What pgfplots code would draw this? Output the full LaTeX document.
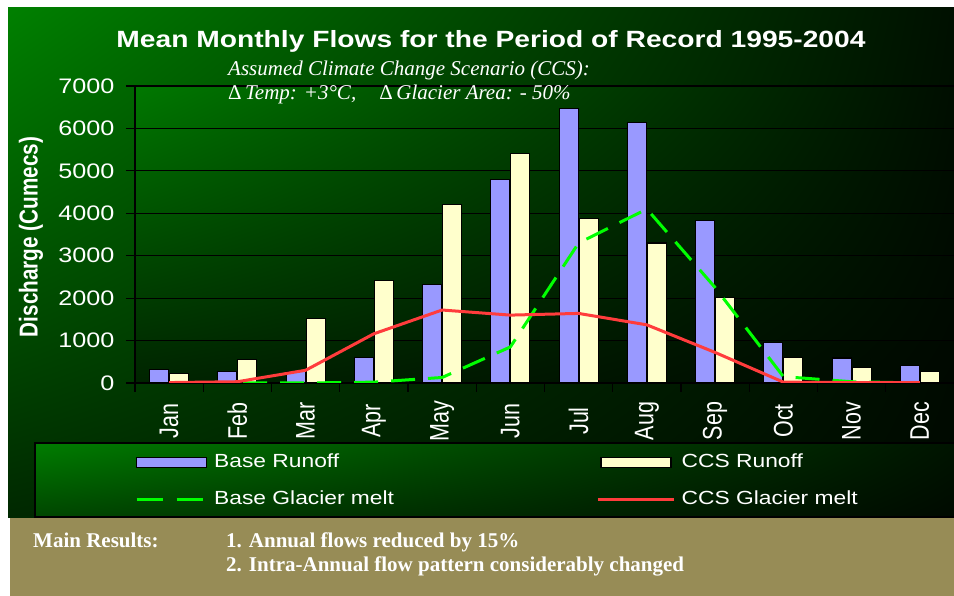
\documentclass[border=0pt]{standalone}
\usepackage{pgfplots}
\pgfplotsset{compat=1.18}
\usetikzlibrary{shadings}
\usepackage{fontspec}
\setmainfont{Liberation Sans}
\newfontfamily\sw[FakeStretch=1.2]{Liberation Sans}
\newfontfamily\tw{Liberation Serif}
\newcommand\vs[1]{\scalebox{1}[1.25]{#1}}
\definecolor{baseblue}{RGB}{153,153,255}
\definecolor{ccsyellow}{RGB}{255,255,204}
\definecolor{meltgreen}{RGB}{0,255,0}
\definecolor{ccsred}{RGB}{255,60,60}
\definecolor{tanc}{RGB}{151,140,86}
\definecolor{pUL}{RGB}{0,128,0}
\definecolor{pUR}{RGB}{0,16,0}
\definecolor{pLL}{RGB}{0,40,0}
\definecolor{pLR}{RGB}{0,8,0}
\definecolor{aUL}{RGB}{0,120,0}
\definecolor{aUR}{RGB}{0,14,0}
\definecolor{aLL}{RGB}{0,36,0}
\definecolor{aLR}{RGB}{0,8,0}
\definecolor{lUL}{RGB}{0,125,0}
\definecolor{lUR}{RGB}{0,20,0}
\definecolor{lLL}{RGB}{0,70,0}
\definecolor{lLR}{RGB}{0,10,0}
\begin{document}
\begin{tikzpicture}
\useasboundingbox (0pt,0pt) rectangle (954pt,596pt);
\fill[white] (0pt,0pt) rectangle (954pt,596pt);
\shade[upper left=pUL, upper right=pUR, lower left=pLL, lower right=pLR] (8pt,78pt) rectangle (954pt,588pt);
\shade[upper left=aUL, upper right=aUR, lower left=aLL, lower right=aLR] (135pt,213pt) rectangle (954pt,510pt);
\shade[upper left=lUL, upper right=lUR, lower left=lLL, lower right=lLR] (35pt,79pt) rectangle (954pt,153pt);
\draw[black, line width=1.5pt] (35pt,79pt) rectangle (956pt,153pt);
\fill[tanc] (10pt,0pt) rectangle (954pt,78pt);
\begin{axis}[
  at={(135pt,213pt)}, anchor=south west,
  scale only axis, width=819pt, height=297pt,
  xmin=-0.5, xmax=11.5, ymin=0, ymax=7000,
  axis lines=left, axis line style={-, black, line width=1.3pt},
  xtick={-0.5,0.5,...,10.5},
  xticklabels={\vs{Jan},\vs{Feb},\vs{Mar},\vs{Apr},\vs{May},\vs{Jun},\vs{Jul},\vs{Aug},\vs{Sep},\vs{Oct},\vs{Nov},\vs{Dec}},
  xticklabel style={xshift=34.1pt, yshift=-29pt, rotate=90, anchor=center, font=\fontsize{21.5}{25}\selectfont, text=white},
  ytick={0,1000,...,7000},
  yticklabel style={font=\sw\fontsize{21}{25}\selectfont, text=white, anchor=east, xshift=-8pt},
  /pgf/number format/assume math mode=true, /pgf/number format/1000 sep={},
  scaled y ticks=false,
  ymajorgrids, grid style={black, line width=1.2pt},
  tick align=outside, major tick length=9pt,
  tick style={black, line width=1.2pt},
  ylabel={\vs{\bfseries Discharge (Cumecs)}},
  ylabel style={at={(axis description cs:-0.127,0.4916)}, anchor=center, text=white, font=\fontsize{20.7}{24}\selectfont},
  legend columns=2,
  legend cell align=left,
  legend style={at={(-0.0037,-0.229)}, anchor=north west, draw=none, fill=none, text=white,
    font=\sw\fontsize{19}{22}\selectfont, column sep=6pt, row sep=18pt,
    nodes={inner sep=0pt, text height=14pt, text depth=5pt}},
]
\addplot[ybar, bar width=19pt, bar shift=-10pt, fill=baseblue, draw=black, line width=1.1pt,
  legend image code/.code={\draw[fill=baseblue,draw=black,line width=1.2pt] (0pt,-5pt) rectangle (70pt,5pt);}]
  coordinates {(0,310) (1,270) (2,280) (3,600) (4,2330) (5,4800) (6,6480) (7,6140) (8,3840) (9,950) (10,590) (11,410)};
\addlegendentry{\makebox[376pt][l]{Base Runoff}}
\addplot[ybar, bar width=19pt, bar shift=10pt, fill=ccsyellow, draw=black, line width=1.1pt,
  legend image code/.code={\draw[fill=ccsyellow,draw=black,line width=1.2pt] (0pt,-5pt) rectangle (70pt,5pt);}]
  coordinates {(0,230) (1,550) (2,1520) (3,2420) (4,4200) (5,5400) (6,3880) (7,3300) (8,2020) (9,610) (10,370) (11,270)};
\addlegendentry{CCS Runoff}
\addplot[draw=meltgreen, line width=3pt, dash pattern=on 24pt off 13pt,
  legend image code/.code={\draw[meltgreen,line width=3pt,dash pattern=on 26pt off 14pt] (0pt,0pt)--(66pt,0pt); \path (70pt,0pt);}]
  coordinates {(0,0) (1,0) (2,0) (3,20) (4,130) (5,850) (6,3300) (7,4100) (8,2250) (9,150) (10,30) (11,0)};
\addlegendentry{\makebox[376pt][l]{Base Glacier melt}}
\addplot[draw=ccsred, line width=3pt,
  legend image code/.code={\draw[ccsred,line width=3.5pt] (-3pt,0pt)--(73pt,0pt);}]
  coordinates {(0,10) (1,30) (2,300) (3,1160) (4,1720) (5,1600) (6,1640) (7,1370) (8,720) (9,20) (10,10) (11,10)};
\addlegendentry{CCS Glacier melt}
\end{axis}
\node[text=white, font=\sw\bfseries\fontsize{23.5}{28}\selectfont] at (491pt,555pt) {Mean Monthly Flows for the Period of Record 1995-2004};
\node[anchor=base west, inner sep=0pt, text=white, font=\tw\itshape\fontsize{21}{25}\selectfont] at (228pt,520pt) {Assumed Climate Change Scenario (CCS):};
\node[anchor=base west, inner sep=0pt, text=white, font=\tw\itshape\fontsize{21}{25}\selectfont] at (228pt,496pt) {{\upshape Δ}\,Temp: +3°C,\hspace{1.1em}{\upshape Δ}\,Glacier Area: - 50\%};
\node[anchor=base west, inner sep=0pt, text=white, font=\tw\bfseries\fontsize{21}{25}\selectfont] at (33pt,48pt) {Main Results:};
\node[anchor=base west, inner sep=0pt, text=white, font=\tw\bfseries\fontsize{21}{25}\selectfont] at (226pt,48pt) {1. Annual flows reduced by 15\%};
\node[anchor=base west, inner sep=0pt, text=white, font=\tw\bfseries\fontsize{21}{25}\selectfont] at (226pt,24pt) {2. Intra-Annual flow pattern considerably changed};
\end{tikzpicture}
\end{document}
